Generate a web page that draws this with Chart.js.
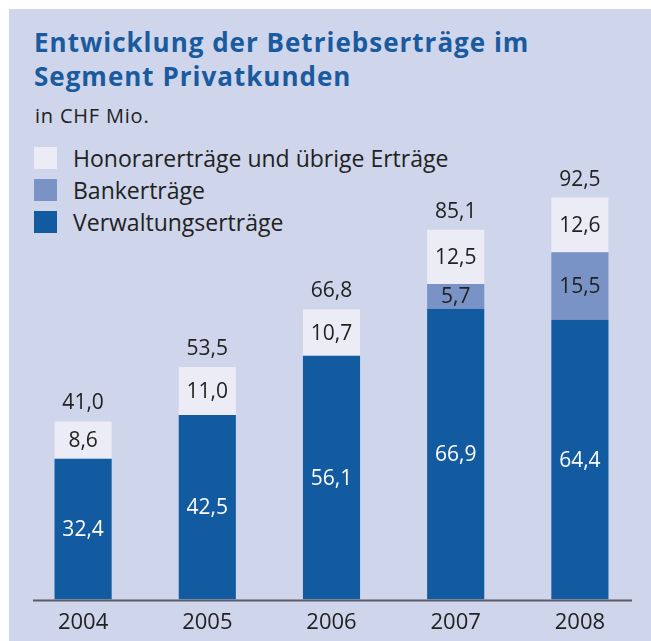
<!DOCTYPE html>
<html>
<head>
<meta charset="utf-8">
<script src="https://cdn.jsdelivr.net/npm/chart.js@4"></script>
<style>
  html, body { margin:0; padding:0; background:#fff; }
  body { width:651px; height:641px; position:relative; overflow:hidden; font-family:"Open Sans", sans-serif; }
  #panel { position:absolute; left:9px; top:9px; width:642px; height:632px; background:#cfd5ea; }
  #title { position:absolute; left:34px; top:25px; margin:0; font-size:26px; line-height:34px; font-weight:700; color:#1a5a9e; letter-spacing:1px; white-space:nowrap; }
  #unit { position:absolute; left:35px; top:106px; font-size:20px; line-height:20px; color:#222; letter-spacing:0.8px; }
  #legend { position:absolute; left:34px; top:142px; }
  .li { height:32px; line-height:32px; display:flex; align-items:center; font-size:23px; color:#222; }
  .sw { width:23px; height:22px; margin-right:16px; }
  #wrap { position:absolute; left:0; top:0; width:651px; height:646px; }
</style>
</head>
<body>
<div id="panel"></div>
<div id="title">Entwicklung der Betriebserträge im<br>Segment Privatkunden</div>
<div id="unit">in CHF Mio.</div>
<div id="legend"></div>
<div id="wrap"><canvas id="c" width="651" height="646"></canvas></div>
<script>
const years = ["2004","2005","2006","2007","2008"];
const verwaltung = [32.4, 42.5, 56.1, 66.9, 64.4];
const banker = [null, null, null, 5.7, 15.5];
const honorar = [8.6, 11.0, 10.7, 12.5, 12.6];
const totals = [41.0, 53.5, 66.8, 85.1, 92.5];

const series = [
  {label:"Verwaltungserträge", data:verwaltung, color:"#135ba1", text:"#fff"},
  {label:"Bankerträge", data:banker, color:"#7a93c6", text:"#222"},
  {label:"Honorarerträge und übrige Erträge", data:honorar, color:"#ebecf6", text:"#222"},
];

function fmt(v){ return v.toFixed(1).replace(".", ","); }

// legend (top to bottom = reverse stacking order)
document.getElementById("legend").innerHTML = series.slice().reverse().map(s =>
  `<div class="li"><span class="sw" style="background:${s.color}"></span>${s.label}</div>`).join("");

const FONT = "Open Sans";

const labelPlugin = {
  id:"labels",
  afterDatasetsDraw(chart){
    const ctx = chart.ctx;
    ctx.save();
    ctx.font = `21px "${FONT}"`;
    ctx.textAlign = "center";
    ctx.textBaseline = "middle";
    chart.data.datasets.forEach((ds, di) => {
      const meta = chart.getDatasetMeta(di);
      meta.data.forEach((bar, i) => {
        const v = ds.data[i];
        if(v == null) return;
        ctx.fillStyle = series[di].text;
        ctx.fillText(fmt(v), bar.x, (bar.y + bar.base)/2 + 1);
      });
    });
    const top = chart.getDatasetMeta(2);
    ctx.fillStyle = "#222";
    top.data.forEach((bar, i) => {
      ctx.fillText(fmt(totals[i]), bar.x, bar.y - 18);
    });
    // baseline
    const y = chart.scales.y.getPixelForValue(0);
    ctx.strokeStyle = "#595b66";
    ctx.lineWidth = 2;
    ctx.beginPath();
    ctx.moveTo(33, y + 1);
    ctx.lineTo(632, y + 1);
    ctx.stroke();
    ctx.restore();
  }
};

new Chart(document.getElementById("c"), {
  type:"bar",
  data:{
    labels: years,
    datasets: series.map(s => ({
      label:s.label, data:s.data, backgroundColor:s.color,
      barPercentage:0.46, categoryPercentage:1, borderWidth:0
    }))
  },
  options:{
    responsive:false,
    animation:false,
    layout:{ padding:{ left:21, right:9, top:165, bottom:0 } },
    plugins:{ legend:{display:false}, tooltip:{enabled:false} },
    scales:{
      x:{ stacked:true, grid:{display:false, drawTicks:false}, border:{display:false},
          ticks:{ color:"#222", font:{family:FONT, size:22}, padding:10 } },
      y:{ stacked:true, min:0, max:100, display:false }
    }
  },
  plugins:[labelPlugin]
});
</script>
</body>
</html>
